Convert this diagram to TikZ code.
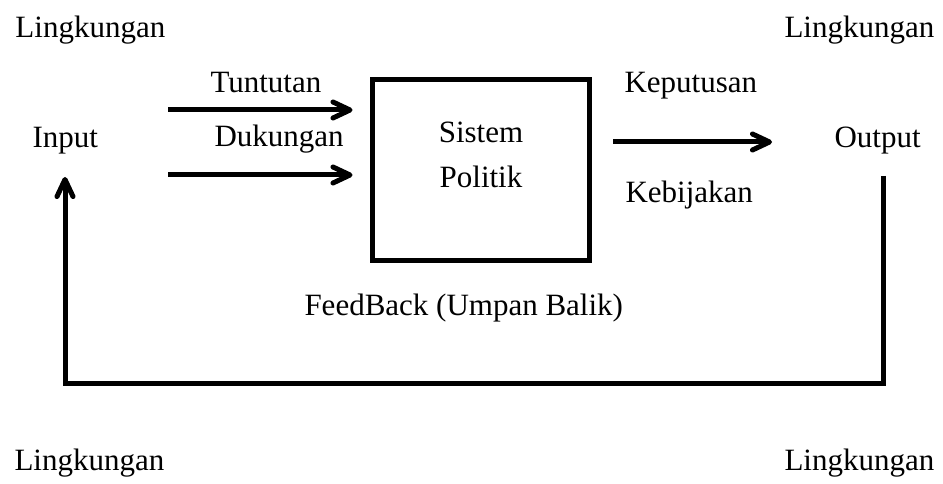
\documentclass[tikz,border=0pt]{standalone}
\usepackage{fontspec}
\setmainfont{Liberation Serif}
\usetikzlibrary{arrows.meta}
\begin{document}
\begin{tikzpicture}[x=1pt, y=-1pt, line width=5pt,
  arr/.style={-{Straight Barb[length=17pt,width=16pt,round]}},
  box node/.style={rectangle,draw,minimum width=217pt,minimum height=180pt,inner sep=0pt}]
\useasboundingbox (0,0) rectangle (943,484);
\begin{scope}[every node/.style={font=\fontsize{31}{37}\selectfont,inner sep=0pt,anchor=base west}]
\node (lingTL) at (13,38) {Lingkungan};
\node (lingTR) at (782,38) {Lingkungan};
\node (lingBL) at (12,470) {Lingkungan};
\node (lingBR) at (782,470) {Lingkungan};
\node (input) at (30,148) {Input};
\node (output) at (832,148) {Output};
\node (tuntutan) at (208,93) {Tuntutan};
\node (dukungan) at (212,147) {Dukungan};
\node (keputusan) at (622,93) {Keputusan};
\node (kebijakan) at (623,203) {Kebijakan};
\node (feedback) at (302,315) {FeedBack (Umpan Balik)};
\node[anchor=base] (sis) at (481,143) {Sistem};
\node[anchor=base] (pol) at (481,187) {Politik};
\end{scope}
\node[box node] (sistem) at (480.5,170) {};
%arrows
\coordinate (tunS) at (168,110);
\coordinate (dukS) at (168,175);
\coordinate (outS) at (613,142);
\coordinate (outE) at (772,142);
\coordinate (fbS) at (883,176);
\coordinate (fbB) at (65,383);
\coordinate (fbE) at (65,177);
\draw[arr] (tunS) -- ([xshift=-17pt]tunS -| sistem.west);
\draw[arr] (dukS) -- ([xshift=-17pt]dukS -| sistem.west);
\draw[arr] (outS) -- (outE);
\draw[arr] (fbS) |- (fbB) -- (fbE);
\end{tikzpicture}
\end{document}
